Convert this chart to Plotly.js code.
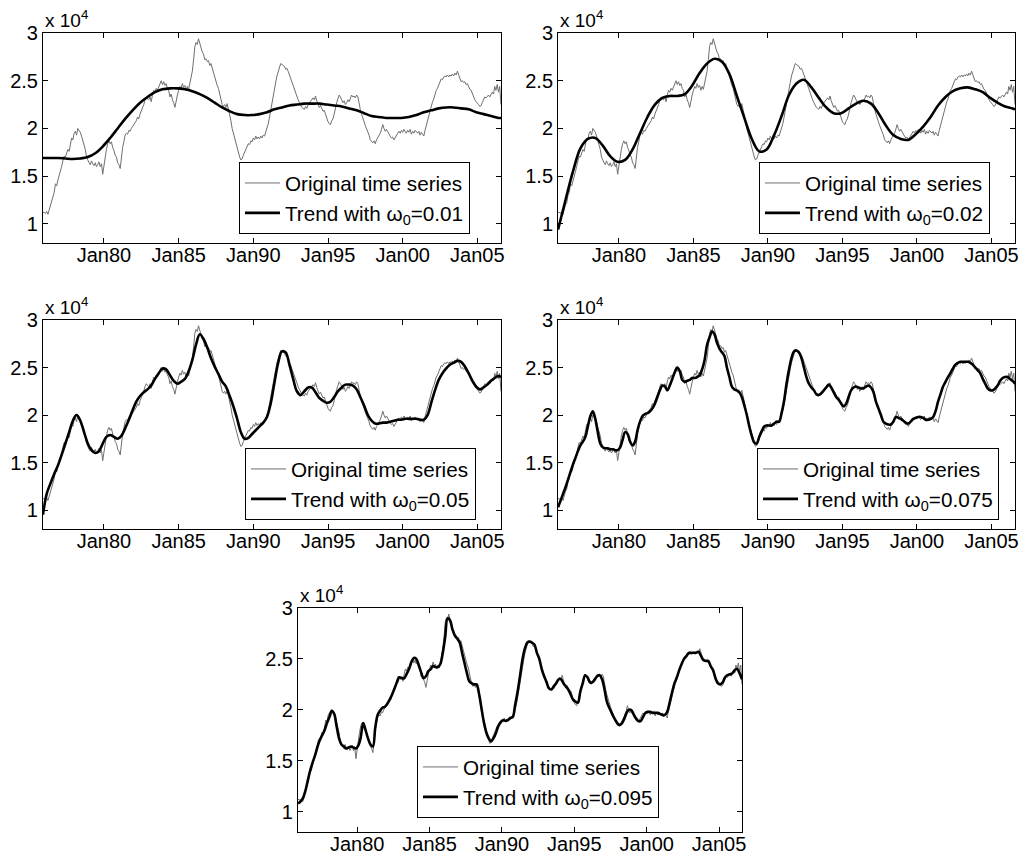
<!DOCTYPE html>
<html>
<head>
<meta charset="utf-8">
<script src="https://cdn.plot.ly/plotly-3.0.1.min.js"></script>
<style>
  html, body { margin: 0; padding: 0; background: #fff; }
  #chart { width: 1023px; height: 864px; }
</style>
</head>
<body>
<div id="chart"></div>
<script>
// Original time series, monthly from Dec 1975 to Aug 2006, in units of 10^4
const original = [
  1.12,
  1.12, 1.11, 1.13, 1.10, 1.15, 1.20, 1.22, 1.30, 1.33, 1.42, 1.40, 1.46, // 1976
  1.50, 1.55, 1.60, 1.66, 1.71, 1.70, 1.74, 1.78, 1.76, 1.84, 1.90, 1.88, // 1977
  1.95, 1.97, 1.93, 2.00, 1.98, 1.96, 1.92, 1.88, 1.84, 1.78, 1.70, 1.66, // 1978
  1.64, 1.62, 1.66, 1.63, 1.61, 1.64, 1.60, 1.62, 1.65, 1.60, 1.63, 1.52, // 1979
  1.62, 1.70, 1.78, 1.84, 1.87, 1.84, 1.86, 1.80, 1.77, 1.72, 1.70, 1.64, // 1980
  1.62, 1.58, 1.70, 1.80, 1.86, 1.93, 1.95, 1.94, 1.98, 1.97, 2.00, 2.02, // 1981
  2.03, 2.06, 2.08, 2.12, 2.10, 2.15, 2.18, 2.20, 2.25, 2.30, 2.33, 2.31, // 1982
  2.30, 2.33, 2.28, 2.35, 2.40, 2.38, 2.42, 2.40, 2.44, 2.48, 2.50, 2.46, // 1983
  2.49, 2.45, 2.47, 2.42, 2.40, 2.33, 2.36, 2.30, 2.27, 2.22, 2.30, 2.35, // 1984
  2.40, 2.44, 2.42, 2.47, 2.43, 2.45, 2.40, 2.44, 2.41, 2.47, 2.52, 2.60, // 1985
  2.72, 2.86, 2.90, 2.88, 2.94, 2.89, 2.85, 2.80, 2.78, 2.72, 2.73, 2.70, // 1986
  2.71, 2.66, 2.68, 2.63, 2.58, 2.55, 2.49, 2.45, 2.42, 2.36, 2.30, 2.25, // 1987
  2.23, 2.25, 2.22, 2.26, 2.20, 2.15, 2.08, 2.00, 1.95, 1.90, 1.83, 1.78, // 1988
  1.73, 1.70, 1.67, 1.68, 1.72, 1.75, 1.79, 1.81, 1.84, 1.83, 1.87, 1.86, // 1989
  1.90, 1.88, 1.92, 1.89, 1.91, 1.89, 1.92, 1.90, 1.93, 1.92, 1.96, 2.00, // 1990
  2.05, 2.12, 2.18, 2.25, 2.33, 2.40, 2.48, 2.55, 2.60, 2.64, 2.68, 2.67, // 1991
  2.66, 2.65, 2.62, 2.63, 2.60, 2.56, 2.54, 2.50, 2.45, 2.40, 2.36, 2.33, // 1992
  2.30, 2.27, 2.24, 2.22, 2.21, 2.20, 2.23, 2.21, 2.25, 2.27, 2.29, 2.30, // 1993
  2.32, 2.30, 2.34, 2.29, 2.26, 2.22, 2.24, 2.20, 2.18, 2.19, 2.15, 2.10, // 1994
  2.07, 2.05, 2.04, 2.08, 2.10, 2.15, 2.22, 2.27, 2.31, 2.35, 2.33, 2.30, // 1995
  2.27, 2.29, 2.25, 2.27, 2.30, 2.28, 2.31, 2.35, 2.33, 2.34, 2.32, 2.35, // 1996
  2.33, 2.25, 2.20, 2.15, 2.12, 2.07, 2.03, 2.00, 1.96, 1.93, 1.88, 1.86, // 1997
  1.85, 1.87, 1.84, 1.88, 1.90, 1.92, 1.95, 1.99, 2.04, 2.00, 1.97, 1.99, // 1998
  1.96, 1.94, 1.92, 1.90, 1.91, 1.88, 1.90, 1.93, 1.94, 1.97, 1.95, 1.98, // 1999
  1.96, 1.99, 1.97, 1.95, 1.98, 1.96, 1.99, 1.94, 1.97, 1.95, 1.98, 1.96, // 2000
  1.95, 1.97, 1.93, 1.96, 1.94, 1.92, 1.98, 2.03, 2.08, 2.14, 2.20, 2.25, // 2001
  2.28, 2.31, 2.36, 2.40, 2.42, 2.45, 2.48, 2.52, 2.51, 2.54, 2.55, 2.54, // 2002
  2.56, 2.54, 2.56, 2.55, 2.57, 2.55, 2.58, 2.56, 2.60, 2.57, 2.52, 2.49, // 2003
  2.50, 2.48, 2.49, 2.46, 2.47, 2.44, 2.41, 2.40, 2.36, 2.32, 2.30, 2.28, // 2004
  2.27, 2.25, 2.23, 2.24, 2.27, 2.30, 2.33, 2.32, 2.34, 2.35, 2.33, 2.36, // 2005
  2.38, 2.36, 2.44, 2.40, 2.46, 2.38, 2.44, 2.25                          // 2006
];

// Trend, omega_0 = 0.01: every six months (Dec/Jun) plus the final month
const trend001 = [
  1.69,
  1.69, 1.69,   1.685, 1.68,  1.685, 1.70,  1.74, 1.81,  // 1976-1979
  1.90, 2.00,   2.10, 2.19,   2.27, 2.33,   2.38, 2.41,  // 1980-1983
  2.42, 2.42,   2.41, 2.39,   2.36, 2.32,   2.27, 2.22,  // 1984-1987
  2.18, 2.15,   2.14, 2.14,   2.15, 2.17,   2.20, 2.22,  // 1988-1991
  2.24, 2.25,   2.26, 2.26,   2.26, 2.25,   2.24, 2.23,  // 1992-1995
  2.21, 2.19,   2.16, 2.13,   2.12, 2.11,   2.11, 2.11,  // 1996-1999
  2.12, 2.14,   2.17, 2.19,   2.21, 2.22,   2.22, 2.21,  // 2000-2003
  2.20, 2.17,   2.15, 2.13,                              // 2004-2005
  2.11, 2.11                                             // Jun, Aug 2006
];

// Trend, omega_0 = 0.02: every six months (Dec/Jun) plus the final month
const trend002 = [
  0.94,
  1.25, 1.55,   1.79, 1.89,   1.90, 1.82,   1.71, 1.65,  // 1976-1979
  1.67, 1.78,   1.95, 2.12,   2.25, 2.32,   2.34, 2.34,  // 1980-1983
  2.36, 2.45,   2.58, 2.68,   2.73, 2.70,   2.57, 2.34,  // 1984-1987
  2.11, 1.89,   1.76, 1.78,   1.93, 2.13,   2.35, 2.47,  // 1988-1991
  2.51, 2.43,   2.32, 2.22,   2.16, 2.16,   2.21, 2.26,  // 1992-1995
  2.29, 2.26,   2.16, 2.03,   1.93, 1.89,   1.88, 1.94,  // 1996-1999
  2.02, 2.12,   2.24, 2.33,   2.39, 2.42,   2.43, 2.41,  // 2000-2003
  2.38, 2.32,   2.27, 2.23,                              // 2004-2005
  2.21, 2.20                                             // Jun, Aug 2006
];

// Trend, omega_0 = 0.05: quarterly (Mar/Jun/Sep/Dec) plus the final month
const trend005 = [
  0.95,
  1.17, 1.28, 1.38, 1.47,   // 1976
  1.58, 1.70, 1.82, 1.94,   // 1977
  2.00, 1.94, 1.82, 1.70,   // 1978
  1.63, 1.60, 1.62, 1.70,   // 1979
  1.77, 1.79, 1.77, 1.75,   // 1980
  1.78, 1.86, 1.95, 2.05,   // 1981
  2.14, 2.20, 2.24, 2.27,   // 1982
  2.31, 2.38, 2.44, 2.49,   // 1983
  2.48, 2.42, 2.36, 2.33,   // 1984
  2.35, 2.38, 2.46, 2.58,   // 1985
  2.74, 2.85, 2.80, 2.71,   // 1986
  2.60, 2.51, 2.43, 2.35,   // 1987
  2.30, 2.20, 2.09, 1.96,   // 1988
  1.82, 1.75, 1.76, 1.80,   // 1989
  1.84, 1.88, 1.92, 1.98,   // 1990
  2.12, 2.34, 2.55, 2.67,   // 1991
  2.66, 2.53, 2.38, 2.25,   // 1992
  2.21, 2.25, 2.29, 2.29,   // 1993
  2.24, 2.18, 2.15, 2.13,   // 1994
  2.14, 2.19, 2.25, 2.29,   // 1995
  2.32, 2.32, 2.31, 2.27,   // 1996
  2.19, 2.10, 2.00, 1.94,   // 1997
  1.91, 1.91, 1.92, 1.92,   // 1998
  1.93, 1.94, 1.95, 1.95,   // 1999
  1.96, 1.96, 1.96, 1.96,   // 2000
  1.95, 1.95, 2.00, 2.13,   // 2001
  2.26, 2.37, 2.44, 2.49,   // 2002
  2.53, 2.55, 2.57, 2.56,   // 2003
  2.51, 2.44, 2.36, 2.30,   // 2004
  2.27, 2.29, 2.32, 2.36,   // 2005
  2.39, 2.41, 2.40          // Mar, Jun, Aug 2006
];

// Trend, omega_0 = 0.075: every two months (Feb/Apr/Jun/Aug/Oct/Dec)
const trend0075 = [
  1.03,
  1.10, 1.17, 1.24, 1.32, 1.40, 1.48,   // 1976
  1.55, 1.62, 1.68, 1.72, 1.77, 1.88,   // 1977
  1.99, 2.04, 1.96, 1.82, 1.70, 1.66,   // 1978
  1.65, 1.65, 1.64, 1.64, 1.63, 1.63,   // 1979
  1.66, 1.74, 1.82, 1.80, 1.72, 1.68,   // 1980
  1.72, 1.84, 1.93, 1.99, 2.01, 2.02,   // 1981
  2.04, 2.07, 2.12, 2.19, 2.26, 2.31,   // 1982
  2.30, 2.26, 2.31, 2.38, 2.45, 2.50,   // 1983
  2.46, 2.37, 2.35, 2.36, 2.37, 2.39,   // 1984
  2.39, 2.40, 2.42, 2.48, 2.58, 2.74,   // 1985
  2.82, 2.88, 2.85, 2.76, 2.70, 2.66,   // 1986
  2.62, 2.50, 2.40, 2.30, 2.27, 2.26,   // 1987
  2.24, 2.19, 2.10, 2.00, 1.88, 1.78,   // 1988
  1.71, 1.70, 1.77, 1.83, 1.88, 1.89,   // 1989
  1.89, 1.89, 1.91, 1.93, 1.93, 2.02,   // 1990
  2.15, 2.33, 2.48, 2.60, 2.67, 2.68,   // 1991
  2.66, 2.60, 2.50, 2.40, 2.33, 2.29,   // 1992
  2.26, 2.22, 2.21, 2.23, 2.26, 2.29,   // 1993
  2.32, 2.29, 2.24, 2.19, 2.16, 2.12,   // 1994
  2.09, 2.12, 2.19, 2.26, 2.29, 2.30,   // 1995
  2.29, 2.28, 2.28, 2.30, 2.31, 2.29,   // 1996
  2.24, 2.14, 2.07, 2.00, 1.93, 1.91,   // 1997
  1.90, 1.90, 1.93, 1.98, 1.97, 1.96,   // 1998
  1.94, 1.92, 1.91, 1.93, 1.96, 1.97,   // 1999
  1.98, 1.98, 1.97, 1.95, 1.95, 1.96,   // 2000
  1.98, 2.04, 2.14, 2.22, 2.30, 2.35,   // 2001
  2.40, 2.44, 2.49, 2.53, 2.55, 2.56,   // 2002
  2.56, 2.56, 2.56, 2.55, 2.53, 2.50,   // 2003
  2.47, 2.44, 2.38, 2.33, 2.28, 2.26,   // 2004
  2.26, 2.28, 2.31, 2.36, 2.39, 2.40,   // 2005
  2.40, 2.38, 2.36, 2.33                // 2006
];

// Trend, omega_0 = 0.095: every two months (Feb/Apr/Jun/Aug/Oct/Dec)
const trend0095 = [
  1.08,
  1.10, 1.13, 1.20, 1.30, 1.40, 1.48,   // 1976
  1.55, 1.63, 1.70, 1.75, 1.80, 1.87,   // 1977
  1.93, 1.99, 1.96, 1.84, 1.72, 1.66,   // 1978
  1.64, 1.62, 1.63, 1.64, 1.63, 1.62,   // 1979
  1.65, 1.73, 1.87, 1.80, 1.72, 1.66,   // 1980
  1.64, 1.82, 1.95, 1.99, 2.02, 2.03,   // 1981
  2.06, 2.10, 2.15, 2.21, 2.27, 2.32,   // 1982
  2.31, 2.31, 2.35, 2.40, 2.47, 2.51,   // 1983
  2.50, 2.44, 2.37, 2.31, 2.33, 2.38,   // 1984
  2.40, 2.43, 2.42, 2.42, 2.45, 2.56,   // 1985
  2.72, 2.90, 2.88, 2.79, 2.73, 2.70,   // 1986
  2.66, 2.56, 2.46, 2.36, 2.28, 2.26,   // 1987
  2.25, 2.25, 2.16, 2.02, 1.88, 1.78,   // 1988
  1.72, 1.69, 1.72, 1.77, 1.84, 1.88,   // 1989
  1.90, 1.89, 1.90, 1.92, 1.93, 2.05,   // 1990
  2.18, 2.33, 2.49, 2.60, 2.66, 2.67,   // 1991
  2.66, 2.64, 2.56, 2.50, 2.40, 2.33,   // 1992
  2.27, 2.21, 2.20, 2.23, 2.26, 2.30,   // 1993
  2.30, 2.26, 2.23, 2.20, 2.15, 2.10,   // 1994
  2.08, 2.07, 2.18, 2.26, 2.34, 2.32,   // 1995
  2.27, 2.27, 2.30, 2.33, 2.34, 2.30,   // 1996
  2.20, 2.08, 2.02, 1.97, 1.92, 1.88,   // 1997
  1.85, 1.86, 1.90, 1.96, 2.00, 2.00,   // 1998
  1.96, 1.92, 1.89, 1.89, 1.93, 1.97,   // 1999
  1.98, 1.98, 1.97, 1.97, 1.97, 1.96,   // 2000
  1.95, 1.95, 1.98, 2.07, 2.17, 2.26,   // 2001
  2.32, 2.39, 2.45, 2.50, 2.53, 2.56,   // 2002
  2.56, 2.56, 2.56, 2.57, 2.53, 2.49,   // 2003
  2.48, 2.48, 2.43, 2.39, 2.31, 2.26,   // 2004
  2.25, 2.27, 2.32, 2.34, 2.35, 2.36,   // 2005
  2.39, 2.40, 2.36, 2.30                // 2006
];

const omegaLabels = ['0.01', '0.02', '0.05', '0.075', '0.095'];
const xTickDates  = ['1980-01-01', '1985-01-01', '1990-01-01', '1995-01-01', '2000-01-01', '2005-01-01'];
const xTickLabels = ['Jan80', 'Jan85', 'Jan90', 'Jan95', 'Jan00', 'Jan05'];
const yTickValues = [1, 1.5, 2, 2.5, 3];
const yTickLabels = ['1', '1.5', '2', '2.5', '3'];

// Dates on the first of every step-th month from start to end (end always included)
function dateGrid(y0, m0, step, y1, m1) {
  const fmt = k => Math.floor(k / 12) + '-' + String(k % 12 + 1).padStart(2, '0') + '-01';
  const last = y1 * 12 + (m1 - 1);
  const out = [];
  let k = y0 * 12 + (m0 - 1);
  for (; k <= last; k += step) out.push(fmt(k));
  if (k - step !== last) out.push(fmt(last));
  return out;
}

const monthly    = dateGrid(1975, 12, 1, 2006, 8);
const semiannual = dateGrid(1975, 12, 6, 2006, 8);
const quarterly  = dateGrid(1975, 12, 3, 2006, 8);
const bimonthly  = dateGrid(1975, 12, 2, 2006, 8);

const trends = [
  { x: semiannual, y: trend001 },
  { x: semiannual, y: trend002 },
  { x: quarterly,  y: trend005 },
  { x: bimonthly,  y: trend0075 },
  { x: bimonthly,  y: trend0095 }
];

const FONT = 'Liberation Sans, Arial, Helvetica, sans-serif';

// Panel placement on the page (paper fractions); leg = top-left corner of each legend box
const panels = [
  { x: [0.0420, 0.4897], y: [0.7188, 0.9618], leg: [0.2336, 0.8125] },
  { x: [0.5455, 0.9922], y: [0.7188, 0.9618], leg: [0.7419, 0.8125] },
  { x: [0.0420, 0.4897], y: [0.3877, 0.6296], leg: [0.2395, 0.4815] },
  { x: [0.5455, 0.9922], y: [0.3877, 0.6296], leg: [0.7400, 0.4815] },
  { x: [0.2913, 0.7253], y: [0.0370, 0.2963], leg: [0.4076, 0.1366] }
];

const data = [];
const layout = {
  width: 1023, height: 864,
  margin: { l: 0, r: 0, t: 0, b: 0 },
  paper_bgcolor: '#fff', plot_bgcolor: '#fff',
  font: { family: FONT, size: 20, color: '#000' },
  showlegend: true,
  annotations: []
};

panels.forEach((p, i) => {
  const n = i === 0 ? '' : String(i + 1);
  const xa = 'x' + n, ya = 'y' + n;
  const legendId = 'legend' + n;

  data.push({
    type: 'scatter', mode: 'lines',
    x: monthly, y: original,
    xaxis: xa, yaxis: ya, legend: legendId,
    name: 'Original time series',
    line: { color: '#6f6f6f', width: 1 },
    hoverinfo: 'skip'
  });
  data.push({
    type: 'scatter', mode: 'lines',
    x: trends[i].x, y: trends[i].y,
    xaxis: xa, yaxis: ya, legend: legendId,
    name: 'Trend with ω<sub>0</sub>=' + omegaLabels[i],
    line: { color: '#000', width: 2.6, shape: 'spline', smoothing: 1 },
    hoverinfo: 'skip'
  });

  layout['xaxis' + n] = {
    domain: p.x, anchor: ya, type: 'date',
    range: ['1975-12-01', '2006-08-01'],
    tickmode: 'array', tickvals: xTickDates, ticktext: xTickLabels,
    ticks: 'inside', ticklen: 5, tickwidth: 1, tickcolor: '#000',
    ticklabelstandoff: -6,
    showline: true, linecolor: '#000', linewidth: 1, mirror: 'ticks',
    showgrid: false, zeroline: false,
    tickfont: { family: FONT, size: 20, color: '#000' }
  };
  layout['yaxis' + n] = {
    domain: p.y, anchor: xa,
    range: [0.8, 3],
    tickmode: 'array', tickvals: yTickValues, ticktext: yTickLabels,
    ticks: 'inside', ticklen: 5, tickwidth: 1, tickcolor: '#000',
    showline: true, linecolor: '#000', linewidth: 1, mirror: 'ticks',
    showgrid: false, zeroline: false,
    tickfont: { family: FONT, size: 20, color: '#000' }
  };
  layout[legendId] = {
    x: p.leg[0], y: p.leg[1], xref: 'paper', yref: 'paper',
    xanchor: 'left', yanchor: 'top',
    bgcolor: '#fff', bordercolor: '#000', borderwidth: 1,
    font: { family: FONT, size: 20.7, color: '#000' },
    itemwidth: 35,
    tracegroupgap: 0, itemclick: false, itemdoubleclick: false
  };
  layout.annotations.push({
    xref: 'paper', yref: 'paper', x: p.x[0], y: p.y[1],
    xanchor: 'left', yanchor: 'bottom', showarrow: false,
    text: 'x 10<sup>4</sup>',
    font: { family: FONT, size: 19, color: '#000' }
  });
});

Plotly.newPlot('chart', data, layout, { staticPlot: true });
</script>
</body>
</html>
